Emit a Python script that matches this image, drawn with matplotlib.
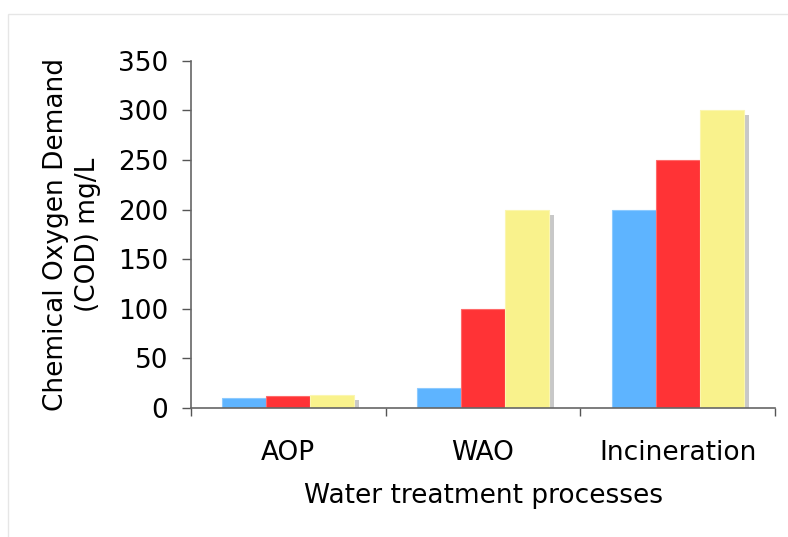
import numpy as np
import matplotlib.pyplot as plt
from matplotlib.patches import Rectangle
from matplotlib.transforms import ScaledTranslation

plt.rcParams['font.family'] = ['DejaVu Sans']

# data
categories = ['AOP', 'WAO', 'Incineration']
series_a = [10, 20, 200]
series_b = [12, 100, 250]
series_c = [13, 200, 300]
yticks = [0, 50, 100, 150, 200, 250, 300, 350]

colors = ['#5eb4ff', '#ff3336', '#f9f28c']
edges = ['#8ccaff', '#ff6a6a', '#fbf6b0']
shadow = '#c8c8c8'

fig = plt.figure(figsize=(7.88, 5.37), dpi=100)
# light frame around the chart area
fig.patches.append(Rectangle((8 / 788, -0.1), 1.2, 1 - 14 / 537 + 0.1,
                             transform=fig.transFigure, fill=False,
                             edgecolor='#e6e6e6', linewidth=1))
ax = fig.add_axes([191 / 788, 1 - 408 / 537, 584 / 788, (408 - 60.7) / 537])

x = np.arange(len(categories))
width = 0.226
offsets = [-width, 0, width]
shift = ScaledTranslation(5 / 100, -5 / 100, fig.dpi_scale_trans)

for vals, off in zip([series_a, series_b, series_c], offsets):
    sh = ax.bar(x + off, vals, width, color=shadow, linewidth=0, zorder=1)
    for p in sh:
        p.set_transform(ax.transData + shift)
        p.set_clip_on(True)
for vals, off, col, ec in zip([series_a, series_b, series_c], offsets,
                              colors, edges):
    ax.bar(x + off, vals, width, color=col, edgecolor=ec, linewidth=0.8,
           zorder=2)

ax.set_xlim(-0.5, len(categories) - 0.5)
ax.set_ylim(0, 350)
ax.set_yticks(yticks)
ax.set_xticks(x)
ax.set_xticklabels(categories)
ax.set_xticks(np.arange(len(categories) + 1) - 0.5, minor=True)
ax.tick_params(axis='x', which='major', length=0, pad=23, labelsize=19)
ax.tick_params(axis='x', which='minor', length=6, width=1, color='#555555',
               direction='out')
ax.tick_params(axis='y', length=6.5, width=1, color='#555555', pad=10,
               labelsize=19)

for s in ['top', 'right']:
    ax.spines[s].set_visible(False)
for s in ['left', 'bottom']:
    ax.spines[s].set_color('#666666')
    ax.spines[s].set_linewidth(1.2)
ax.spines['bottom'].set_zorder(3)

ax.set_xlabel('Water treatment processes', fontsize=19, labelpad=12)
ax.set_ylabel('Chemical Oxygen Demand\n(COD) mg/L', fontsize=19,
              labelpad=12, linespacing=1.3)

fig.savefig('out.png', dpi=100)
